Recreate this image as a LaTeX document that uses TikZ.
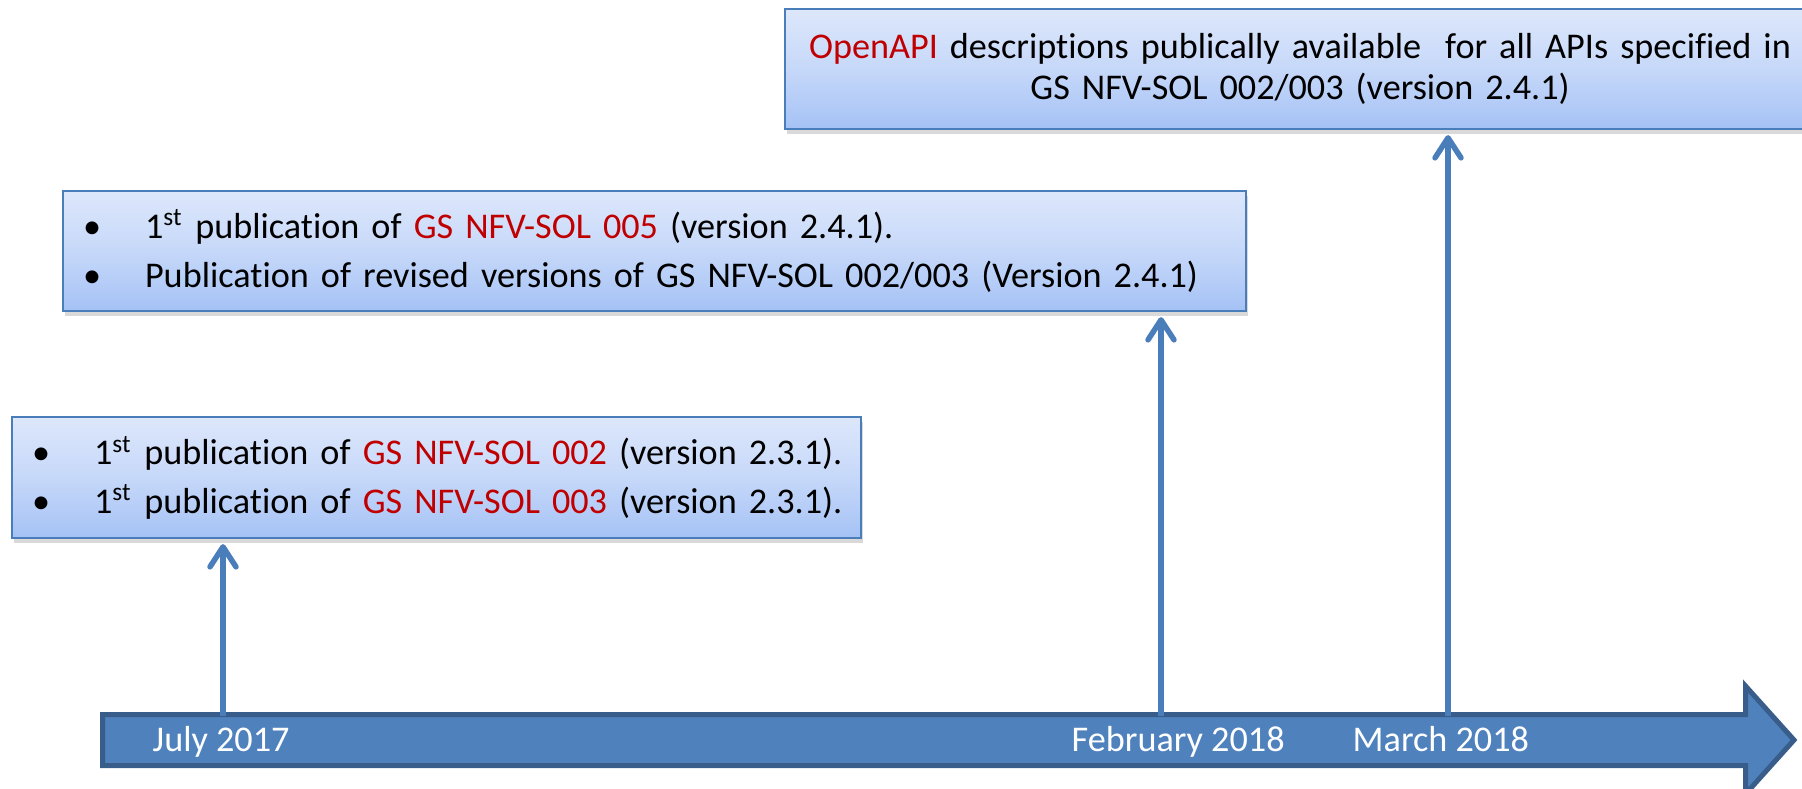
\documentclass[tikz,border=0pt]{standalone}
\usepackage{fontspec}
\setmainfont{Carlito}[Ligatures={TeX,NoCommon}]
\usepackage{xcolor}
\usetikzlibrary{arrows.meta, shadows}
\definecolor{boxtop}{HTML}{DDE7FB}
\definecolor{boxmid}{HTML}{C6D8F9}
\definecolor{boxbot}{HTML}{A5C2F5}
\definecolor{boxline}{HTML}{4A7EBB}
\definecolor{pinblue}{HTML}{4A7EBB}
\definecolor{tlfill}{HTML}{4F81BD}
\definecolor{tlborder}{HTML}{385D8A}
\definecolor{solred}{HTML}{C00000}
\newcommand{\solname}[1]{\textcolor{solred}{#1}}
\newcommand{\bline}[1]{\mbox{\makebox[0.62cm][l]{\textbullet}#1}}

\begin{document}
\begin{tikzpicture}[
    panel/.style={draw=boxline, line width=0.6pt, top color=boxtop, bottom color=boxbot, middle color=boxmid,
        drop shadow={shadow xshift=0.02cm, shadow yshift=-0.05cm, opacity=0.3},
        anchor=north west, inner xsep=0.2cm, font=\fontsize{10.3}{13.8}\selectfont},
    pin/.style={draw=pinblue, line width=0.055cm, shorten >=0.05cm,
        -{Straight Barb[length=0.2cm, width=0.26cm, line cap=round, line join=round]}},
    date/.style={anchor=base west, inner sep=0pt, text=white, font=\fontsize{10.3}{12.6}\selectfont}
]
    \useasboundingbox (0,0) rectangle (18.02,7.88);
    % timeline
    \draw[line width=0.05cm, draw=tlborder, fill=tlfill] (1.025,0.735) -- (17.455,0.735) -- (17.455,1.02)
        -- (17.94,0.48) -- (17.455,-0.06) -- (17.455,0.225) -- (1.025,0.225) -- cycle;
    \coordinate (jul) at (2.23,0.72);
    \coordinate (feb) at (11.61,0.72);
    \coordinate (mar) at (14.48,0.72);
    \node[date] (d-jul) at (1.52,0.37) {July 2017};
    \node[date] (d-feb) at (10.71,0.37) {February 2018};
    \node[date] (d-mar) at (13.52,0.37) {March 2018};
    % july 2017
    \node[panel, minimum height=1.21cm, text width=8.09cm, align=left] (low) at (0.11,3.72)
        {\bline{1\textsuperscript{st} publication of \solname{GS NFV-SOL 002} (version 2.3.1).}\\
         \bline{1\textsuperscript{st} publication of \solname{GS NFV-SOL 003} (version 2.3.1).}};
    % february 2018
    \node[panel, minimum height=1.20cm, text width=11.43cm, align=left] (mid) at (0.62,5.98)
        {\bline{1\textsuperscript{st} publication of \solname{GS NFV-SOL 005} (version 2.4.1).}\\
         \bline{Publication of revised versions of GS NFV-SOL 002/003 (Version 2.4.1)}};
    % march 2018
    \node[panel, minimum height=1.20cm, text width=10.0cm, inner xsep=0.15cm, align=center,
        font=\fontsize{10.3}{11.8}\selectfont] (top) at (7.84,7.80)
        {\mbox{\solname{OpenAPI} descriptions publically available\ \ for all APIs specified in}\\
         \mbox{GS NFV-SOL 002/003 (version 2.4.1)}};
    \draw[pin] (jul) -- (jul |- low.south);
    \draw[pin] (feb) -- (feb |- mid.south);
    \draw[pin] (mar) -- (mar |- top.south);
\end{tikzpicture}
\end{document}
